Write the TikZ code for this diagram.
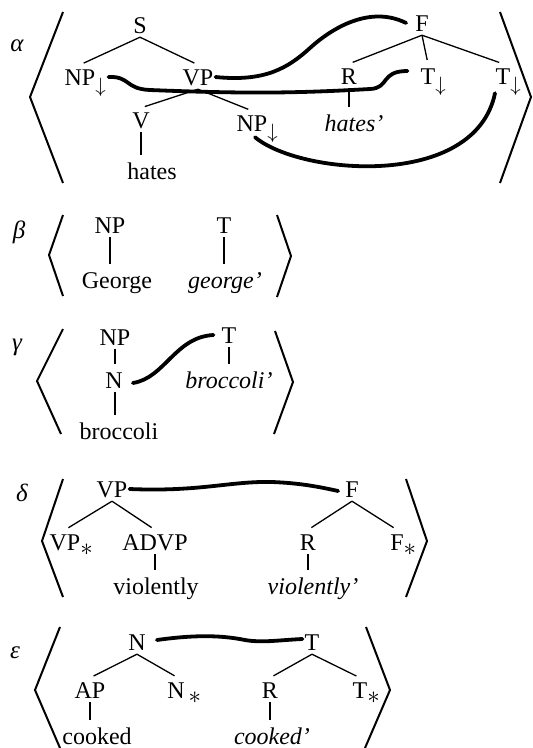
\documentclass[tikz,border=0pt]{standalone}
\usepackage{fontspec}
\setmainfont{Liberation Serif}
\newcommand\sdown{\rlap{\raisebox{-7pt}{\fontsize{20}{20}\selectfont$\downarrow$}}}
\newcommand\sstar{\rlap{\raisebox{-5pt}{$\ast$}}}
\begin{document}
\begin{tikzpicture}[x=1pt,y=-1pt,
 lab/.style={anchor=base,inner xsep=2pt,inner ysep=4pt,text height=16pt,text depth=0pt,font=\fontsize{24}{28}\selectfont},
 sem/.style={lab,font=\fontsize{24}{28}\selectfont\itshape},
 greek/.style={anchor=center,inner sep=0pt,font=\fontsize{25}{28}\selectfont\itshape},
 edge/.style={line width=1.3pt,shorten >=4pt},
 link/.style={line width=3.8pt,line cap=round},
 brk/.style={line width=2pt,line join=miter},
]
\useasboundingbox (0,0) rectangle (533,748);

% ---------------- alpha ----------------
\node[greek] (la) at (17,46) {α};
\draw[brk] (63,12) -- (30,97) -- (63,183);
\draw[brk] (500,12) -- (531,97) -- (500,183);
\node[lab] (S) at (140,33) {S};
\node[lab] (NPa) at (80,85) {NP\sdown};
\node[lab] (VPa) at (198,85) {VP};
\node[lab] (Va) at (141,128) {V};
\node[lab] (hates) at (152,179) {hates};
\node[lab] (NPb) at (252,131) {NP\sdown};
\node[lab] (Fa) at (422,31) {F};
\node[lab] (Ra) at (349,84) {R};
\node[lab] (Ta) at (428,84) {T\sdown};
\node[lab] (Tb) at (503,84) {T\sdown};
\node[sem] (hatesp) at (354,131) {hates'};
\draw[edge] (S.south) -- (NPa.north);
\draw[edge] (S.south) -- (VPa.north);
\draw[edge] (VPa.south) -- (Va.north);
\draw[edge] (VPa.south) -- (NPb.north);
\draw[edge] (Va.south) -- (Va.south |- hates.north);
\draw[edge] (Fa.south) -- (Ra.north);
\draw[edge] (Fa.south) -- (Ta.north);
\draw[edge] (Fa.south) -- (Tb.north);
\draw[edge] (Ra.south) -- (Ra.south |- hatesp.north);
\draw[link] (VPa.east) .. controls (265,82) and (288,68) .. (310,48) .. controls (332,28) and (370,5) .. ([xshift=-7pt]Fa.west);
\draw[link] ([xshift=11pt]NPa.east) .. controls (130,76) and (125,89) .. (150,90) .. controls (250,94) and (300,93) .. (370,89) .. controls (390,88) and (380,71) .. ([shift={(-11pt,5pt)}]Ta.west);
\draw[link] ([shift={(3pt,-2pt)}]NPb.south) .. controls (300,175) and (475,190) .. ([shift={(-8pt,-5pt)}]Tb.south);

% ---------------- beta ----------------
\node[greek] (lb) at (19,232) {β};
\draw[brk] (63,215) -- (49,255) -- (63,296);
\draw[brk] (277,215) -- (291,256) -- (277,297);
\node[lab] (NPc) at (110,233) {NP};
\node[lab] (George) at (117,288) {George};
\node[lab] (Tc) at (224,233) {T};
\node[sem] (georgep) at (225,288) {george'};
\draw[edge] (NPc.south) -- (NPc.south |- George.north);
\draw[edge] (Tc.south) -- (Tc.south |- georgep.north);

% ---------------- gamma ----------------
\node[greek] (lg) at (17,347) {γ};
\draw[brk] (63,329) -- (37,381) -- (61,434);
\draw[brk] (275,331) -- (293,382) -- (274,434);
\node[lab] (NPd) at (115,345) {NP};
\node[lab] (Nd) at (114,388) {N};
\node[lab] (broc) at (119,439) {broccoli};
\node[lab] (Td) at (229,343) {T};
\node[sem] (brocp) at (229,388) {broccoli'};
\draw[edge] (NPd.south) -- (NPd.south |- Nd.north);
\draw[edge] (NPd.south |- Nd.south) -- (NPd.south |- broc.north);
\draw[edge] (Td.south) -- (Td.south |- brocp.north);
\draw[link] ([shift={(8pt,-3pt)}]Nd.east) .. controls (165,378) and (175,337) .. ([xshift=-6pt]Td.west);

% ---------------- delta ----------------
\node[greek] (ld) at (22,493) {δ};
\draw[brk] (63,479) -- (42,541) -- (63,597);
\draw[brk] (406,479) -- (427,541) -- (406,597);
\node[lab] (VPe) at (112,497) {VP};
\node[lab] (VPs) at (65,550) {VP\sstar};
\node[lab] (ADVP) at (155,550) {ADVP};
\node[lab] (viol) at (156,594) {violently};
\node[lab] (Fe) at (352,497) {F};
\node[lab] (Re) at (308,550) {R};
\node[sem] (violp) at (313,594) {violently'};
\node[lab] (Fs) at (397,550) {F\sstar};
\draw[edge] (VPe.south) -- (VPs.north);
\draw[edge] (VPe.south) -- (ADVP.north);
\draw[edge] (ADVP.south) -- (ADVP.south |- viol.north);
\draw[edge] (Fe.south) -- (Re.north);
\draw[edge] (Fe.south) -- (Fs.north);
\draw[edge] (Re.south) -- (Re.south |- violp.north);
\draw[link] (VPe.east) .. controls (200,492) and (230,481) .. (272,482) .. controls (300,483) and (320,487) .. ([shift={(-5pt,-2pt)}]Fe.west);

% ---------------- epsilon ----------------
\node[greek] (le) at (15,653) {ε};
\draw[brk] (60,627) -- (35,690) -- (60,748);
\draw[brk] (366,627) -- (390,690) -- (365,748);
\node[lab] (Nf) at (137,650) {N};
\node[lab] (AP) at (90,698) {AP};
\node[lab] (cooked) at (97,744) {cooked};
\node[lab] (Ns) at (178,698) {N\hspace{4pt}\sstar};
\node[lab] (Tf) at (312,650) {T};
\node[lab] (Rf) at (270,698) {R};
\node[sem] (cookedp) at (272,744) {cooked'};
\node[lab] (Ts) at (360,698) {T\sstar};
\draw[edge] (Nf.south) -- (AP.north);
\draw[edge] (Nf.south) -- (Ns.north);
\draw[edge] (AP.south) -- (AP.south |- cooked.north);
\draw[edge] (Tf.south) -- (Rf.north);
\draw[edge] (Tf.south) -- (Ts.north);
\draw[edge] (Rf.south) -- (Rf.south |- cookedp.north);
\draw[link] ([shift={(9pt,2pt)}]Nf.east) .. controls (200,634) and (225,636) .. (245,640) .. controls (262,643) and (280,640) .. ([yshift=3pt]Tf.west);
\end{tikzpicture}
\end{document}
